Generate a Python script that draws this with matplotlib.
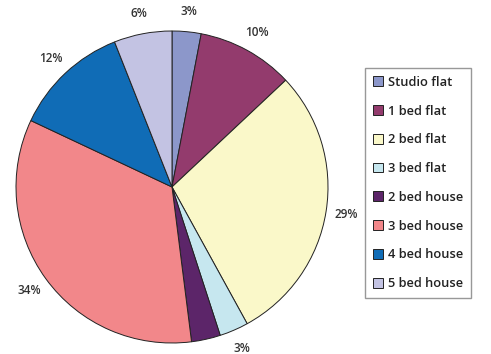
import matplotlib
matplotlib.use("Agg")
import matplotlib.pyplot as plt

plt.rcParams['font.family'] = ['Open Sans', 'DejaVu Sans']

categories = ["Studio flat", "1 bed flat", "2 bed flat", "3 bed flat",
              "2 bed house", "3 bed house", "4 bed house", "5 bed house"]
shares = [3, 10, 29, 3, 3, 34, 12, 6]
colors = ["#8C97CA", "#933B6D", "#FAF8C9", "#C6E7EF",
          "#5C2569", "#F2878A", "#106CB6", "#C3C3E3"]

W, H = 491, 354
fig = plt.figure(figsize=(W / 100, H / 100), dpi=100)

cx, cy, r = 172, 187, 156
ax = fig.add_axes([(cx - r) / W, (H - cy - r) / H, 2 * r / W, 2 * r / H])

wedges, texts = ax.pie(
    shares, colors=colors, startangle=90, counterclock=False,
    labels=[f"{v}%" for v in shares], labeldistance=1.13,
    wedgeprops=dict(edgecolor="#222222", linewidth=0.7),
    textprops=dict(fontsize=8.5, color="#333333", fontweight="semibold"),
)
for t in texts:
    t.set_horizontalalignment("center")
    t.set_verticalalignment("center")
ax.set_xlim(-1, 1)
ax.set_ylim(-1, 1)
ax.set_aspect("equal")
ax.axis("off")

leg = fig.legend(
    wedges, categories, loc="upper left",
    bbox_to_anchor=(365 / W, 1 - 68 / H), bbox_transform=fig.transFigure,
    borderaxespad=0, frameon=True, fancybox=False,
    handlelength=0.8, handleheight=0.8, handletextpad=0.35,
    labelspacing=1.22, borderpad=0.6, fontsize=9.3,
)
leg.get_frame().set_edgecolor("#7F7F7F")
leg.get_frame().set_linewidth(1.0)
for t in leg.get_texts():
    t.set_color("#222222")
    t.set_fontweight("semibold")

fig.savefig("out.png", dpi=100)
